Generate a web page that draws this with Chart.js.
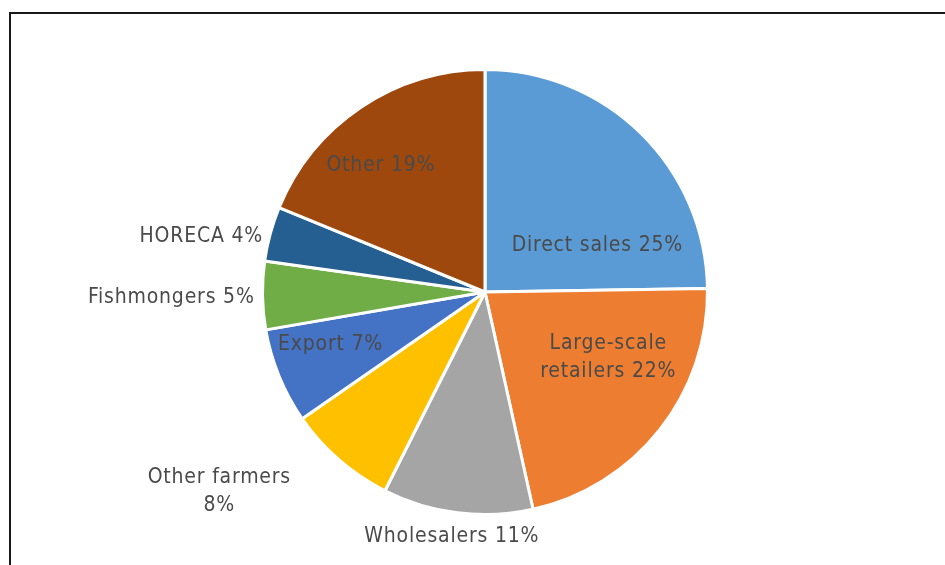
<!DOCTYPE html>
<html>
<head>
<meta charset="utf-8">
<script src="https://cdn.jsdelivr.net/npm/chart.js@4.4.1/dist/chart.umd.min.js"></script>
<style>
  html, body { margin: 0; padding: 0; background: #fff; }
  #wrap { width: 945px; height: 565px; position: relative; }
</style>
</head>
<body>
<div id="wrap"><canvas id="salesPie" width="945" height="565"></canvas></div>
<script>
// sales channels, shares in percent, clockwise from 12 o'clock
const channels = ['Direct sales', 'Large-scale retailers', 'Wholesalers', 'Other farmers', 'Export', 'Fishmongers', 'HORECA', 'Other'];
const shares = [25, 22, 11, 8, 7, 5, 4, 19];
const sliceColors = ['#5B9BD5', '#ED7D31', '#A5A5A5', '#FFC000', '#4472C4', '#70AD47', '#255E91', '#9E480E'];

// how each label is broken into lines
const labelLines = [
    ['Direct sales 25%'],
    ['Large-scale', 'retailers 22%'],
    ['Wholesalers 11%'],
    ['Other farmers', '8%'],
    ['Export 7%'],
    ['Fishmongers 5%'],
    ['HORECA 4%'],
    ['Other 19%']
];
// label centres, relative to pie centre, in units of the radius
const labelSpots = [
    [0.505, -0.207], [0.554, 0.293], [-0.149, 1.099], [-1.194, 0.896],
    [-0.694, 0.234], [-1.41, 0.027], [-1.275, -0.248], [-0.468, -0.568]
];

const frame = {
    id: 'frame',
    afterDraw(chart) {
        const ctx = chart.ctx;
        ctx.save();
        ctx.strokeStyle = '#1a1a1a';
        ctx.lineWidth = 2;
        ctx.beginPath();
        ctx.moveTo(10, 565);
        ctx.lineTo(10, 13);
        ctx.lineTo(945, 13);
        ctx.stroke();
        ctx.restore();
    }
};

const sliceLabels = {
    id: 'sliceLabels',
    afterDatasetsDraw(chart) {
        const ctx = chart.ctx;
        const arcs = chart.getDatasetMeta(0).data;
        ctx.save();
        ctx.font = '21px "DejaVu Sans Condensed", "DejaVu Sans", sans-serif';
        ctx.letterSpacing = '0.8px';
        ctx.fillStyle = '#4a4a4a';
        ctx.textAlign = 'center';
        ctx.textBaseline = 'middle';
        arcs.forEach((arc, i) => {
            const r = arc.outerRadius;
            const cx = arc.x + labelSpots[i][0] * r;
            const cy = arc.y + labelSpots[i][1] * r;
            const lines = labelLines[i];
            const lh = 28;
            lines.forEach((t, j) => {
                ctx.fillText(t, cx, cy + (j - (lines.length - 1) / 2) * lh);
            });
        });
        ctx.restore();
    }
};

new Chart(document.getElementById('salesPie'), {
    type: 'pie',
    data: {
        labels: channels,
        datasets: [{
            data: shares,
            backgroundColor: sliceColors,
            borderColor: '#ffffff',
            borderWidth: 3
        }]
    },
    options: {
        responsive: false,
        animation: false,
        layout: { padding: { top: 68, bottom: 49, left: 261, right: 236 } },
        plugins: {
            legend: { display: false },
            tooltip: { enabled: false }
        }
    },
    plugins: [frame, sliceLabels]
});
</script>
</body>
</html>
